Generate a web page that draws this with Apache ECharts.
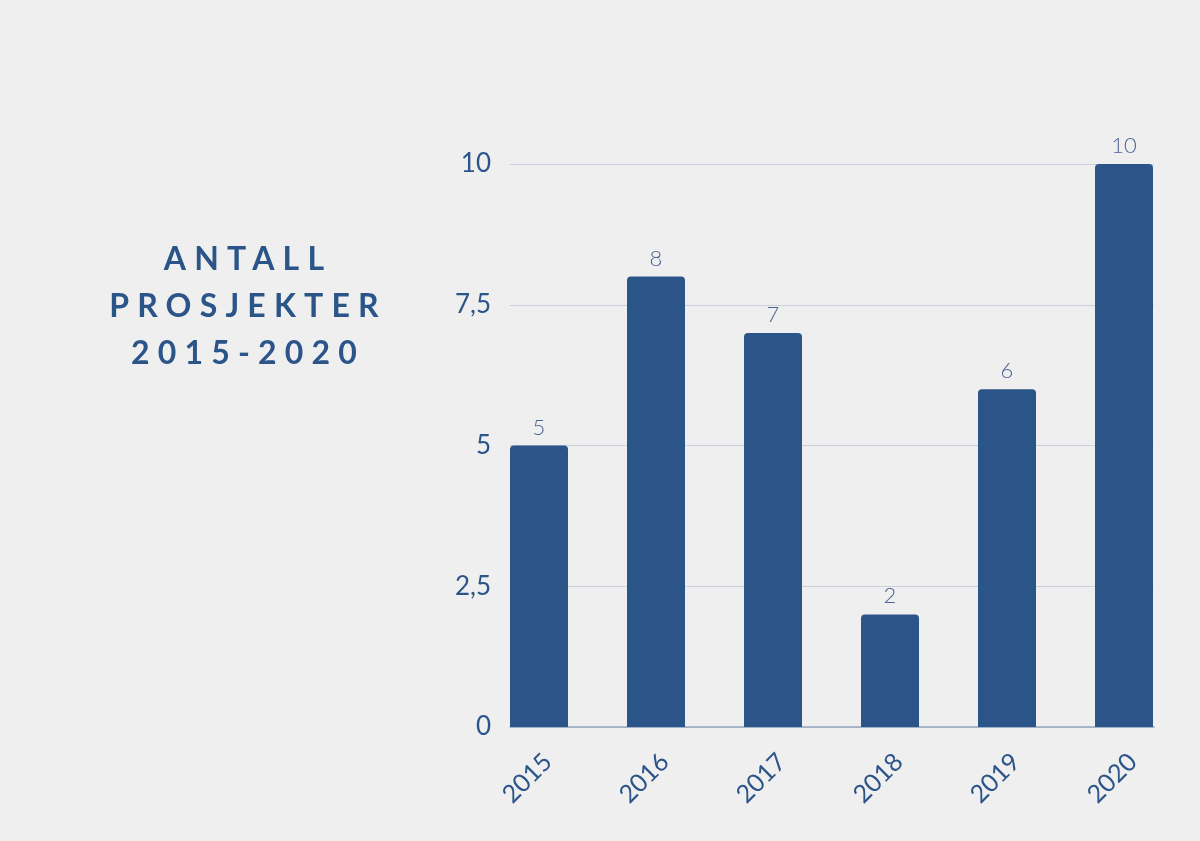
<!DOCTYPE html>
<html>
<head>
<meta charset="utf-8">
<script src="https://cdn.jsdelivr.net/npm/echarts@6/dist/echarts.min.js"></script>
<style>
  html, body { margin:0; padding:0; background:#f0efef; }
  #chart { width:1200px; height:841px; position:absolute; left:0; top:0; }
  #title {
    position:absolute; left:40px; top:234px; width:400px;
    text-align:center; font-family:Lato, sans-serif; font-weight:700;
    font-size:32px; line-height:47px; letter-spacing:8.2px; padding-left:8px;
    color:#2b5589; z-index:2;
  }
</style>
</head>
<body>
<div id="chart"></div>
<div id="title">ANTALL<br>PROSJEKTER<br>2015-2020</div>
<script>
const titleLines = ['ANTALL', 'PROSJEKTER', '2015-2020'];
const categories = ['2015', '2016', '2017', '2018', '2019', '2020'];
const values = [5, 8, 7, 2, 6, 10];
const yTicks = [0, 2.5, 5, 7.5, 10];

const navy = '#2b5589';
const chart = echarts.init(document.getElementById('chart'));
chart.setOption({
  backgroundColor: '#f0efef',
  animation: false,
  grid: [
    { left: 510, right: 46, top: 164, bottom: 114 },
    { left: 480.5, right: 17.5, top: 164, bottom: 114 }
  ],
  xAxis: [
    { type: 'category', gridIndex: 0, data: categories,
      axisLine: { show: true, lineStyle: { color: '#94a6bf', width: 1.5 } },
      axisTick: { show: false }, axisLabel: { show: false }, splitLine: { show: false } },
    { type: 'category', gridIndex: 1, data: categories,
      axisLine: { show: false }, axisTick: { show: false }, splitLine: { show: false },
      axisLabel: { rotate: 45, verticalAlign: 'top', margin: 22, color: navy,
        fontFamily: 'Lato', fontSize: 25 } }
  ],
  yAxis: [
    { type: 'value', gridIndex: 0, min: 0, max: 10, interval: 2.5,
      axisLine: { show: false }, axisTick: { show: false },
      splitLine: { lineStyle: { color: '#c9d1dc', width: 1.2 } },
      axisLabel: { margin: 19, color: navy, fontFamily: 'Lato', fontSize: 26,
        formatter: v => yTicks.includes(v) ? String(v).replace('.', ',') : '' } },
    { type: 'value', gridIndex: 1, min: 0, max: 10, interval: 2.5, show: false }
  ],
  series: [{
    type: 'bar', xAxisIndex: 1, yAxisIndex: 1, data: values, barWidth: 58,
    itemStyle: { color: navy, borderRadius: [4, 4, 0, 0] },
    label: { show: true, position: 'top', distance: 7, color: '#4a6590',
      fontFamily: 'Lato', fontWeight: 300, fontSize: 22 }
  }]
});
</script>
</body>
</html>
